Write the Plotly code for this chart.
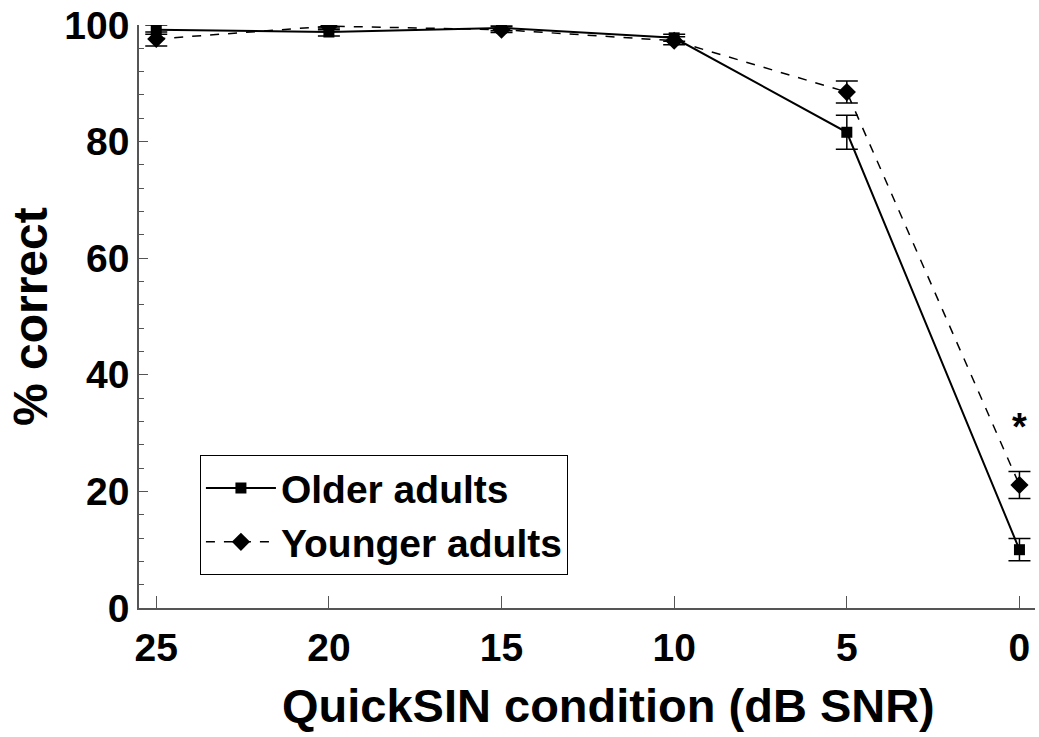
import plotly.graph_objects as go

snr = [25, 20, 15, 10, 5, 0]
older = [99.2, 98.8, 99.5, 97.8, 81.6, 10.0]
older_err = [0.8, 0.7, 0.5, 0.6, 2.9, 1.9]
younger = [97.6, 99.8, 99.2, 97.3, 88.5, 21.1]
younger_err = [1.2, 0.6, 0.5, 0.7, 1.9, 2.3]
xticks = [25, 20, 15, 10, 5, 0]
yticks = [0, 20, 40, 60, 80, 100]

FONT = "Liberation Sans, Arial, sans-serif"

fig = go.Figure()
fig.add_trace(go.Scatter(
    x=snr, y=older, name="<b>Older adults</b>", mode="lines+markers",
    line=dict(color="black", width=2, dash="solid"),
    marker=dict(symbol="square", size=11, color="black"),
    error_y=dict(type="data", array=older_err, color="black", thickness=1.5, width=11),
))
fig.add_trace(go.Scatter(
    x=snr, y=younger, name="<b>Younger adults</b>", mode="lines+markers",
    line=dict(color="black", width=1.5, dash="dash"),
    marker=dict(symbol="diamond", size=14, color="black"),
    error_y=dict(type="data", array=younger_err, color="black", thickness=1.5, width=11),
))

fig.add_annotation(x=0, y=31, text="<b>*</b>", showarrow=False,
                   font=dict(size=38, color="black", family=FONT))
fig.add_annotation(xref="paper", yref="paper", x=0.524, y=-0.167, xanchor="center", yanchor="middle",
                   text="<b>QuickSIN condition (dB SNR)</b>", showarrow=False,
                   font=dict(size=47, color="black", family=FONT))
fig.add_annotation(xref="paper", yref="paper", x=-0.121, y=0.5, xanchor="center", yanchor="middle",
                   text="<b>% correct</b>", textangle=-90, showarrow=False,
                   font=dict(size=48, color="black", family=FONT))

fig.update_layout(
    width=1039, height=737,
    margin=dict(l=139, r=4, t=20, b=129),
    plot_bgcolor="white", paper_bgcolor="white",
    font=dict(family=FONT, color="black"),
    showlegend=True,
    legend=dict(x=0.068, y=0.262, xanchor="left", yanchor="top",
                bordercolor="black", borderwidth=1, bgcolor="white",
                font=dict(size=39, color="black", family=FONT),
                itemwidth=70, tracegroupgap=0),
    xaxis=dict(
        range=[25.5, -0.45], tickvals=xticks, ticktext=[f"<b>{t}</b>" for t in xticks],
        ticks="inside", ticklen=12, tickcolor="#555", showline=True, linecolor="#555",
        linewidth=1.5, showgrid=False, zeroline=False, ticklabeloverflow="allow",
        tickfont=dict(size=39, family=FONT), ticklabelstandoff=4,
    ),
    yaxis=dict(
        range=[0, 100], tickvals=yticks, ticktext=[f"<b>{t}</b>" for t in yticks],
        ticks="inside", ticklen=9, tickcolor="#555", showline=True, linecolor="#555",
        linewidth=1.5, showgrid=False, zeroline=False, ticklabeloverflow="allow",
        tickfont=dict(size=39, family=FONT),
        minor=dict(dtick=4, ticks="inside", ticklen=5, tickcolor="#555", showgrid=False),
    ),
)

fig.write_html("out.html")
